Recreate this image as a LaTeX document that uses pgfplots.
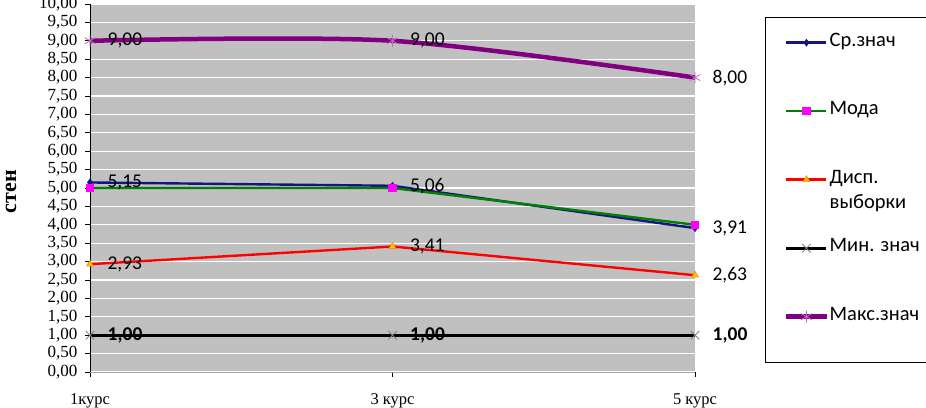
\documentclass[border=0pt]{standalone}
\usepackage{pgfplots}
\pgfplotsset{compat=1.18}
\usepackage{fontspec}
\setmainfont{Liberation Serif}
\newfontfamily\carlito{Carlito}
\definecolor{bgray}{RGB}{192,192,192}
\definecolor{cnavy}{RGB}{20,20,130}
\definecolor{cgreen}{RGB}{0,128,0}
\definecolor{cred}{RGB}{255,0,0}
\definecolor{cpurple}{RGB}{128,0,128}
\definecolor{cmag}{RGB}{255,0,255}
\definecolor{corange}{RGB}{255,192,0}
\definecolor{cstar}{RGB}{190,110,190}
\begin{document}
\begin{tikzpicture}
\begin{axis}[
  scale only axis,
  width=605pt, height=368pt,
  xmin=0, xmax=2, ymin=0, ymax=10,
  clip=false,
  axis background/.style={fill=bgray},
  axis x line*=bottom,
  axis y line*=left,
  x axis line style={draw=gray!70},
  y axis line style={black, line width=0.8pt},
  xtick={0,1,2},
  xticklabels={1курс,3 курс,5 курс},
  xticklabel style={font=\fontsize{16.5}{18}\selectfont, yshift=-13pt},
  ytick distance=0.5,
  yticklabel style={font=\fontsize{17}{18}\selectfont, xshift=-4pt},
  /pgf/number format/.cd, fixed, fixed zerofill, precision=2, use comma, assume math mode=true,
  /pgfplots/.cd,
  tick align=outside,
  major tick length=5pt,
  tick style={black, line width=0.6pt},
  ymajorgrids,
  grid style={white, line width=1.2pt},
  ylabel={стен},
  ylabel style={font=\fontsize{22}{24}\selectfont\bfseries, at={(axis description cs:-0.1306,0.49)}, anchor=center},
  nodes near coords,
  every node near coord/.append style={font=\carlito\fontsize{19.5}{21}\selectfont, black, anchor=west, xshift=14pt},
  legend style={
    at={(rel axis cs:1,1)}, anchor=north west, xshift=70pt, yshift=-13pt,
    draw=none, fill=none,
    font=\carlito\fontsize{20.5}{25}\selectfont,
    inner xsep=19pt, inner ysep=17pt,
    row sep=51.5pt,
    nodes={inner sep=1pt, text height=11pt, text depth=4pt},
  },
  legend cell align=left,
  legend image code/.code={\draw[#1, mark repeat=2, mark phase=2] plot coordinates {(0pt,0pt) (20pt,0pt) (40pt,0pt)};},
]
\addplot[cnavy, line width=2.4pt, mark=diamond*, mark size=3.5pt, mark options={fill=cnavy, line width=0.5pt}] coordinates {(0,5.15) (1,5.06) (2,3.91)};
\addlegendentry{Ср.знач}
\addplot[cgreen, line width=2.4pt, mark=square*, mark size=3pt, mark options={fill=cmag, draw=cmag}, nodes near coords=] coordinates {(0,5.00) (1,5.00) (2,4.00)};
\addlegendentry{Мода}
\addplot[cred, line width=2.4pt, mark=triangle*, mark size=4pt, mark options={fill=corange, draw=orange, line width=0.5pt}] coordinates {(0,2.93) (1,3.41) (2,2.63)};
\addlegendentry{\begin{tabular}[t]{@{}l@{}}Дисп.\\выборки\end{tabular}}
\addplot[black, line width=2.8pt, mark=x, mark size=6pt, mark options={draw=gray, line width=0.8pt}, every node near coord/.append style={font=\carlito\fontsize{19.5}{21}\selectfont\bfseries}] coordinates {(0,1.00) (1,1.00) (2,1.00)};
\addlegendentry{Мин. знач}
\addplot[cpurple, line width=4.5pt, smooth, mark=asterisk, mark size=6pt, mark options={draw=cstar, line width=0.8pt}] coordinates {(0,9.00) (1,9.00) (2,8.00)};
\addlegendentry{Макс.знач}
\coordinate (bl) at (rel axis cs:0,0);
\coordinate (tr) at (rel axis cs:1,1);
\end{axis}
\draw[black, line width=0.8pt] ([xshift=70pt,yshift=-13pt]tr) rectangle ([xshift=234pt,yshift=-358pt]tr);
\pgfresetboundingbox
\path[use as bounding box] ([xshift=-90pt,yshift=-36pt]bl) rectangle ([xshift=231pt,yshift=4pt]tr);
\end{tikzpicture}
\end{document}
